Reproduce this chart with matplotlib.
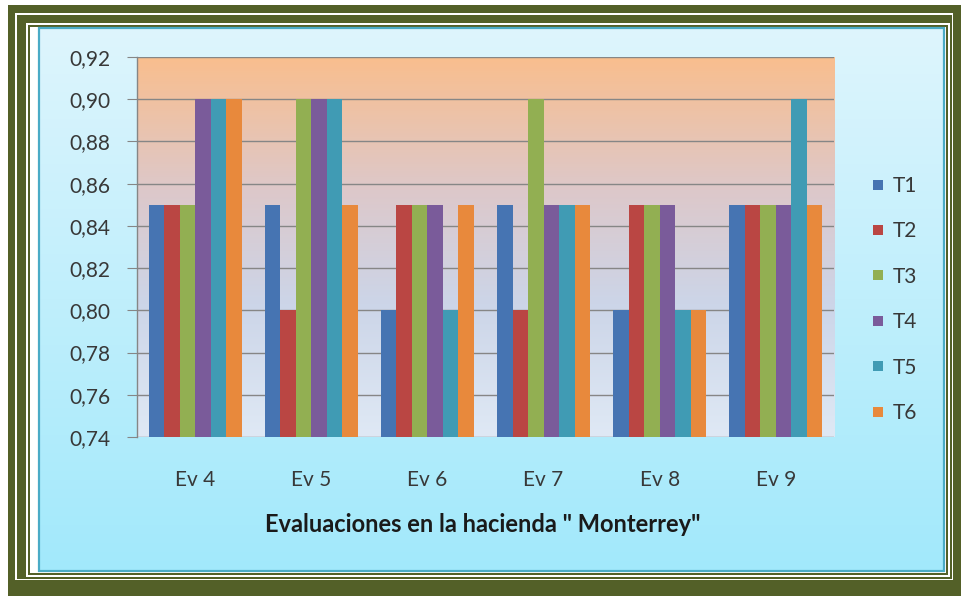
import numpy as np
import matplotlib
matplotlib.use('Agg')
from matplotlib import pyplot as plt
from matplotlib.patches import Rectangle
from matplotlib.lines import Line2D
from matplotlib.colors import to_rgb

# data
categories = ['Ev 4', 'Ev 5', 'Ev 6', 'Ev 7', 'Ev 8', 'Ev 9']
series = ['T1', 'T2', 'T3', 'T4', 'T5', 'T6']
T1 = [0.85, 0.85, 0.80, 0.85, 0.80, 0.85]
T2 = [0.85, 0.80, 0.85, 0.80, 0.85, 0.85]
T3 = [0.85, 0.90, 0.85, 0.90, 0.85, 0.85]
T4 = [0.90, 0.90, 0.85, 0.85, 0.85, 0.85]
T5 = [0.90, 0.90, 0.80, 0.85, 0.80, 0.90]
T6 = [0.90, 0.85, 0.85, 0.85, 0.80, 0.85]
values = [T1, T2, T3, T4, T5, T6]
yticks = [0.74, 0.76, 0.78, 0.80, 0.82, 0.84, 0.86, 0.88, 0.90, 0.92]
colors = ['#4674B2', '#BA4643', '#92AF52', '#7A5B9A', '#409BB4', '#E8893C']

plt.rcParams['font.family'] = ['Lato', 'DejaVu Sans']

W, H = 961, 596
fig = plt.figure(figsize=(W / 100, H / 100), dpi=100, facecolor='white')

# background frame, in pixel coords
bg = fig.add_axes([0, 0, 1, 1], zorder=-10)
bg.set_xlim(0, W)
bg.set_ylim(H, 0)
bg.axis('off')

def box(x0, y0, x1, y1, color):
    bg.add_patch(Rectangle((x0, y0), x1 - x0, y1 - y0, facecolor=color, edgecolor='none'))

green = '#536028'
box(8, 5, 961, 596, green)
box(15, 13, 953, 580, 'white')
box(17, 15, 952, 579, green)
box(26, 23, 950, 577, 'white')
box(28, 25, 948, 575, green)
box(30, 27, 946, 573, 'white')

def vgrad(stops, n=256):
    t = np.linspace(0, 1, n)
    pos = [s[0] for s in stops]
    cols = np.array([to_rgb(s[1]) for s in stops])
    img = np.stack([np.interp(t, pos, cols[:, k]) for k in range(3)], axis=-1)
    return img[:, None, :]

bg.imshow(vgrad([(0, '#DEF5FD'), (1, '#A2E9FB')]), extent=(39, 944, 571, 28),
          aspect='auto', interpolation='bicubic', zorder=1)
bg.add_patch(Rectangle((39, 28), 944 - 39, 571 - 28, facecolor='none',
                       edgecolor='#4AABC6', lw=1.6, zorder=2))
bg.set_xlim(0, W)
bg.set_ylim(H, 0)

# main chart
ax = fig.add_axes([137 / W, (H - 437) / H, (834 - 137) / W, (437 - 57) / H])
ax.patch.set_alpha(0)
x = np.arange(len(categories))
w = 0.8 / len(series)
ax.imshow(vgrad([(0, '#F9BE8E'), (0.35, '#DDC8CA'), (0.65, '#CCD5E8'), (1, '#DFE9F5')]),
          extent=(-0.5, len(categories) - 0.5, 0.74, 0.92), aspect='auto',
          interpolation='bicubic', zorder=0)
for i, (name, vals) in enumerate(zip(series, values)):
    ax.bar(x + (i - 2.5) * w, np.array(vals) - 0.74, w, bottom=0.74,
           color=colors[i], label=name, zorder=3)

ax.set_xlim(-0.5, len(categories) - 0.5)
ax.set_ylim(0.74, 0.92)
ax.set_yticks(yticks)
ax.set_yticklabels([f'{v:.2f}'.replace('.', ',') for v in yticks])
ax.set_xticks(x)
ax.set_xticklabels(categories)
ax.yaxis.grid(True, color='#868686', lw=1.0, zorder=1)
ax.set_axisbelow(True)
for s in ['top', 'right', 'bottom']:
    ax.spines[s].set_visible(False)
ax.spines['left'].set_color('#868686')
ax.spines['left'].set_linewidth(1.0)
ax.tick_params(axis='y', length=7, color='#868686', pad=12, labelsize=15, labelcolor='#383838')
ax.tick_params(axis='x', length=0, pad=24, labelsize=15, labelcolor='#383838')

fig.text(483 / W, (H - 525) / H, 'Evaluaciones en la hacienda " Monterrey"',
         ha='center', va='center', fontsize=17, fontweight='bold', color='#1A1A1A')

handles = [Line2D([], [], marker='s', ls='none', markersize=7, color=c,
                  markeredgewidth=0) for c in colors]
fig.legend(handles, series, loc='center left', bbox_to_anchor=(872 / W, (H - 299.5) / H),
           frameon=False, fontsize=15, borderpad=0, borderaxespad=0,
           handlelength=0.6, handletextpad=0.4, labelspacing=1.22,
           labelcolor='#383838')

fig.savefig('out.png', dpi=100, facecolor='white')
